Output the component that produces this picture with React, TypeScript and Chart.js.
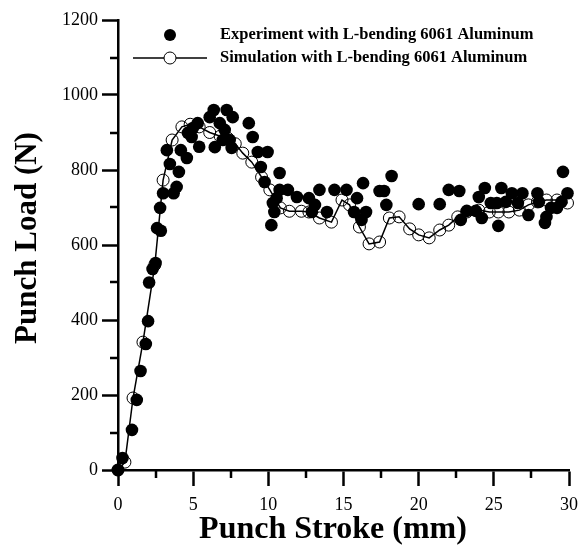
import React, { useEffect, useRef } from "react";
import { Chart, registerables } from "chart.js";

Chart.register(...registerables);

const experimentX = [
  0, 0.3, 0.93, 1.25, 1.5, 1.85, 2.0, 2.07, 2.3, 2.5, 2.6, 2.85, 2.8, 3.0, 3.25, 3.45, 3.7, 3.9, 4.05, 4.18,
  4.58, 4.65, 4.9, 4.98, 5.3, 5.4, 6.1, 6.37, 6.44, 6.77, 6.97, 7.1, 7.23, 7.43, 7.56, 7.63, 8.7, 8.96, 9.3, 9.5,
  9.75, 9.95, 10.2, 10.3, 10.4, 10.55, 10.75, 10.75, 11.3, 11.9, 12.7, 12.9, 13.1, 13.4, 13.9, 14.4, 15.2, 15.7, 15.9, 16.2,
  16.3, 16.5, 17.4, 17.7, 17.85, 18.2, 20.0, 21.4, 22.0, 22.7, 22.8, 23.2, 23.8, 24.0, 24.2, 24.4, 24.8, 25.2, 25.3, 25.5,
  25.8, 26.2, 26.6, 26.9, 27.3, 27.9, 28.0, 28.4, 28.5, 28.8, 29.2, 29.5, 29.6, 29.9,
];
const experimentY = [
  0, 32, 107, 187, 264, 336, 397, 500, 536, 552, 645, 638, 699, 738, 853, 816, 738, 755, 795, 853,
  832, 899, 888, 912, 925, 862, 941, 960, 861, 925, 880, 907, 960, 880, 859, 941, 925, 888, 848, 808,
  768, 848, 653, 712, 688, 725, 792, 747, 747, 728, 725, 688, 707, 747, 688, 747, 747, 688, 725, 667,
  765, 688, 744, 744, 707, 784, 709, 709, 747, 744, 667, 691, 691, 728, 672, 752, 712, 712, 651, 752,
  715, 738, 712, 738, 680, 738, 715, 659, 675, 699, 699, 715, 795, 738,
];

const simulationX = [
  0, 0.46, 1.0, 1.66, 2.45, 3.0, 3.6, 4.25, 4.8, 5.4, 6.1, 6.8, 7.3, 7.8, 8.3, 8.9, 9.55, 10.1, 10.8, 11.4,
  12.2, 12.7, 13.4, 14.2, 14.9, 15.4, 16.06, 16.7, 17.4, 18.05, 18.7, 19.4, 20.0, 20.7, 21.4, 22.0, 22.6, 23.2, 24.0, 24.7,
  25.3, 26.0, 26.7, 27.3, 27.9, 28.5, 29.2, 29.9,
];
const simulationY = [
  0, 21, 192, 341, 547, 773, 880, 915, 922, 915, 900, 890, 885, 870, 845, 821, 781, 747, 699, 690,
  690, 688, 672, 661, 720, 707, 648, 603, 608, 672, 675, 643, 627, 619, 640, 653, 675, 688, 693, 688,
  688, 688, 693, 707, 715, 720, 720, 712,
];

const xTicksMajor = [0, 5, 10, 15, 20, 25, 30];
const xTicksMinor = [2.5, 7.5, 12.5, 17.5, 22.5, 27.5];
const yTicksMajor = [0, 200, 400, 600, 800, 1000, 1200];
const yTicksMinor = [100, 300, 500, 700, 900, 1100];

const legendLabels = [
  "Experiment with L-bending 6061 Aluminum",
  "Simulation with L-bending 6061 Aluminum",
];
const xTitle = "Punch Stroke (mm)";
const yTitle = "Punch Load (N)";

const SERIF = "'Liberation Serif', 'Times New Roman', serif";

const minorTicksPlugin = {
  id: "minorTicks",
  afterDraw(chart: any) {
    const ctx = chart.ctx;
    const xs = chart.scales.x;
    const ys = chart.scales.y;
    const area = chart.chartArea;
    ctx.save();
    ctx.strokeStyle = "#000";
    ctx.lineWidth = 2.5;
    ctx.beginPath();
    for (const v of yTicksMinor) {
      const p = Math.round(ys.getPixelForValue(v));
      ctx.moveTo(area.left - 8, p);
      ctx.lineTo(area.left, p);
    }
    for (const v of xTicksMinor) {
      const p = Math.round(xs.getPixelForValue(v));
      ctx.moveTo(p, area.bottom);
      ctx.lineTo(p, area.bottom + 8);
    }
    ctx.stroke();
    ctx.restore();
  },
};

const titlesPlugin = {
  id: "axisTitles",
  afterDraw(chart: any) {
    const ctx = chart.ctx;
    ctx.save();
    ctx.fillStyle = "#000";
    ctx.textAlign = "center";
    ctx.textBaseline = "middle";
    ctx.font = `bold 32px ${SERIF}`;
    ctx.fillText(xTitle, 333, 530);
    ctx.translate(28, 238);
    ctx.rotate(-Math.PI / 2);
    ctx.font = `bold 31px ${SERIF}`;
    ctx.fillText(yTitle, 0, 0);
    ctx.restore();
  },
};

const legendPlugin = {
  id: "customLegend",
  afterDraw(chart: any) {
    const ctx = chart.ctx;
    ctx.save();
    ctx.fillStyle = "#000";
    ctx.beginPath();
    ctx.arc(170, 35, 6, 0, Math.PI * 2);
    ctx.fill();
    ctx.strokeStyle = "#000";
    ctx.lineWidth = 1.5;
    ctx.beginPath();
    ctx.moveTo(133, 58);
    ctx.lineTo(207, 58);
    ctx.stroke();
    ctx.fillStyle = "#fff";
    ctx.lineWidth = 1;
    ctx.beginPath();
    ctx.arc(170, 58, 6, 0, Math.PI * 2);
    ctx.fill();
    ctx.stroke();
    ctx.fillStyle = "#000";
    ctx.font = `bold 16.5px ${SERIF}`;
    ctx.textBaseline = "middle";
    ctx.textAlign = "left";
    ctx.fillText(legendLabels[0], 220, 35);
    ctx.fillText(legendLabels[1], 220, 58);
    ctx.restore();
  },
};

export default function App() {
  const canvasRef = useRef<HTMLCanvasElement | null>(null);

  useEffect(() => {
    if (!canvasRef.current) return;
    const expData = experimentX.map((x, i) => ({ x, y: experimentY[i] }));
    const simData = simulationX.map((x, i) => ({ x, y: simulationY[i] }));
    const chart = new Chart(canvasRef.current, {
      type: "scatter",
      data: {
        datasets: [
          {
            label: legendLabels[1],
            data: simData,
            showLine: true,
            borderColor: "#000",
            borderWidth: 1.5,
            pointRadius: 6,
            pointBorderWidth: 1,
            pointBackgroundColor: "rgba(255,255,255,0)",
            pointBorderColor: "#000",
            clip: false,
            order: 2,
          } as any,
          {
            label: legendLabels[0],
            data: expData,
            showLine: false,
            pointRadius: 6.3,
            pointBorderWidth: 0,
            pointBackgroundColor: "#000",
            pointBorderColor: "#000",
            clip: false,
            order: 1,
          } as any,
        ],
      },
      options: {
        animation: false,
        responsive: false,
        maintainAspectRatio: false,
        layout: { padding: { top: 20, right: 16, left: 0, bottom: 0 } },
        plugins: { legend: { display: false }, tooltip: { enabled: false } },
        scales: {
          x: {
            type: "linear",
            min: 0,
            max: 30,
            afterBuildTicks: (s: any) => {
              s.ticks = xTicksMajor.map((v) => ({ value: v }));
            },
            afterFit: (s: any) => {
              s.height = 78;
            },
            ticks: {
              color: "#000",
              font: { family: SERIF, size: 18 },
              padding: 8,
              maxRotation: 0,
              callback: (v: any) => String(v),
            },
            grid: {
              drawOnChartArea: false,
              drawTicks: true,
              tickLength: 16,
              tickWidth: 2.5,
              tickColor: "#000",
            },
            border: { display: true, color: "#000", width: 2.5 },
            title: { display: false },
          },
          y: {
            type: "linear",
            min: 0,
            max: 1200,
            afterBuildTicks: (s: any) => {
              s.ticks = yTicksMajor.map((v) => ({ value: v }));
            },
            afterFit: (s: any) => {
              s.width = 118;
            },
            ticks: {
              color: "#000",
              font: { family: SERIF, size: 18 },
              padding: 4,
              callback: (v: any) => String(v),
            },
            grid: {
              drawOnChartArea: false,
              drawTicks: true,
              tickLength: 16,
              tickWidth: 2.5,
              tickColor: "#000",
            },
            border: { display: true, color: "#000", width: 2.5 },
            title: { display: false },
          },
        },
      },
      plugins: [minorTicksPlugin, titlesPlugin, legendPlugin],
    });
    return () => chart.destroy();
  }, []);

  return (
    <div style={{ position: "fixed", left: 0, top: 0, width: 586, height: 548, background: "#fff" }}>
      <canvas ref={canvasRef} width={586} height={548} style={{ width: 586, height: 548 }} />
    </div>
  );
}
